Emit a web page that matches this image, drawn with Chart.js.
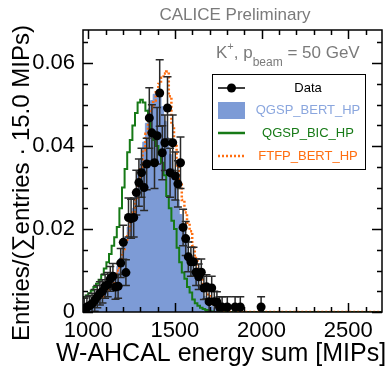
<!DOCTYPE html>
<html>
<head>
<meta charset="utf-8">
<title>W-AHCAL energy sum</title>
<script src="https://cdn.jsdelivr.net/npm/chart.js@4.4.1/dist/chart.umd.min.js"></script>
<style>
  html, body { margin: 0; padding: 0; background: #fff; }
  canvas { display: block; }
</style>
</head>
<body>
<canvas id="energyChart" width="389" height="368"></canvas>
<script>
// Binning of the histograms (MIPs)
const binStart = 970;
const binWidth = 15;
const axisMax = 2695;

// Data, normalised entries per bin (null = no point drawn)
const dataValues = [
  0.0008, 0.0012, 0.0015, 0.0020, 0.0028, 0.0037, 0.0045, 0.0050, 0.0062, 0.0066,
  0.0080, 0.0086, 0.0060, 0.0062, 0.0118, 0.0168, 0.0095, 0.0228, 0.0225, 0.0228,
  0.0288, 0.0312, 0.0336, 0.0300, 0.0357, 0.0468, 0.0432, 0.0360, 0.0425, 0.0528,
  0.0384, 0.0408, 0.0492, 0.0336, 0.0408, 0.0328, 0.0309, 0.0360, 0.0204, 0.0177,
  0.0133, 0.0121, 0.0121, 0.0096, 0.0085, 0.0096, 0.0058, 0.0061, 0.0025, 0.0058,
  0.0025, 0.0024, 0.0012, 0.0012, null, 0.0012, null, null, 0.0012, null,
  0.0012, null, null, null, null, null, null, null, 0.0012, null
];
const dataErrors = [
  0.0025, 0.0025, 0.0025, 0.0025, 0.0026, 0.0027, 0.0028, 0.0028, 0.0029, 0.0029,
  0.0030, 0.0031, 0.0029, 0.0029, 0.0035, 0.0041, 0.0031, 0.0047, 0.0047, 0.0047,
  0.0054, 0.0057, 0.0059, 0.0055, 0.0062, 0.0073, 0.0068, 0.0062, 0.0068, 0.0080,
  0.0065, 0.0067, 0.0075, 0.0059, 0.0067, 0.0058, 0.0056, 0.0062, 0.0044, 0.0041,
  0.0036, 0.0035, 0.0035, 0.0032, 0.0031, 0.0032, 0.0028, 0.0029, 0.0025, 0.0028,
  0.0025, 0.0025, 0.0025, 0.0025, null, 0.0025, null, null, 0.0025, null,
  0.0025, null, null, null, null, null, null, null, 0.0025, null
];

// Simulations
const bertValues = [
  0.0010, 0.0012, 0.0016, 0.0020, 0.0025, 0.0030, 0.0037, 0.0045, 0.0052, 0.0060,
  0.0070, 0.0080, 0.0095, 0.0110, 0.0130, 0.0160, 0.0180, 0.0205, 0.0225, 0.0250,
  0.0280, 0.0330, 0.0370, 0.0410, 0.0455, 0.0490, 0.0510, 0.0525, 0.0530, 0.0520,
  0.0495, 0.0460, 0.0420, 0.0380, 0.0345, 0.0310, 0.0270, 0.0235, 0.0200, 0.0170,
  0.0135, 0.0110, 0.0092, 0.0078, 0.0065, 0.0050, 0.0038, 0.0028, 0.0020, 0.0013,
  0.0008, 0.0005, 0.0003, 0.0002, 0.0001, 0, 0, 0, 0, 0
];
const bicValues = [
  0.0035, 0.0040, 0.0045, 0.0052, 0.0060, 0.0068, 0.0078, 0.0090, 0.0105, 0.0120,
  0.0140, 0.0160, 0.0180, 0.0205, 0.0250, 0.0300, 0.0345, 0.0385, 0.0415, 0.0450,
  0.0480, 0.0505, 0.0512, 0.0505, 0.0485, 0.0460, 0.0435, 0.0415, 0.0400, 0.0380,
  0.0360, 0.0330, 0.0280, 0.0250, 0.0220, 0.0200, 0.0155, 0.0120, 0.0095, 0.0080,
  0.0060, 0.0047, 0.0030, 0.0021, 0.0015, 0.0010, 0.0007, 0.0005, 0.0003, 0.0001,
  0, 0, 0, 0, 0, 0, 0, 0, 0, 0
];
const ftfpValues = [
  0.0008, 0.0010, 0.0013, 0.0017, 0.0020, 0.0025, 0.0030, 0.0037, 0.0045, 0.0052,
  0.0060, 0.0070, 0.0085, 0.0100, 0.0120, 0.0145, 0.0170, 0.0190, 0.0215, 0.0240,
  0.0270, 0.0310, 0.0350, 0.0390, 0.0430, 0.0460, 0.0490, 0.0510, 0.0530, 0.0550,
  0.0565, 0.0575, 0.0580, 0.0520, 0.0450, 0.0400, 0.0350, 0.0310, 0.0270, 0.0240,
  0.0215, 0.0195, 0.0160, 0.0130, 0.0105, 0.0085, 0.0065, 0.0050, 0.0038, 0.0028,
  0.0020, 0.0013, 0.0008, 0.0005, 0.0003, 0.0002, 0, 0, 0, 0
];

// Axes
const xRange = [970, 2695];
const yRange = [0, 0.068];
const xTickValues = [1000, 1500, 2000, 2500];
const yTickValues = [0, 0.02, 0.04, 0.06];
const xMinorStep = 100;
const yMinorStep = 0.005;

const legendLabels = ['Data', 'QGSP_BERT_HP', 'QGSP_BIC_HP', 'FTFP_BERT_HP'];

const FONT = "'Liberation Sans', Arial, sans-serif";
const BLUE = '#7d9bd6';
const BLUE_TEXT = '#8aa6de';
const GREEN = '#177a17';
const ORANGE = '#ff6e10';
const GREY = '#7a7a7a';

// Step histogram: points at the left bin edges, then closed down to zero
function histogramPoints(values) {
  const points = values.map((v, i) => ({ x: binStart + i * binWidth, y: v }));
  points.push({ x: binStart + values.length * binWidth, y: 0 });
  points.push({ x: axisMax, y: 0 });
  return points;
}

// Data points at bin centres, with errors
function dataPoints() {
  const points = [];
  dataValues.forEach((v, i) => {
    if (v !== null) {
      points.push({ x: binStart + (i + 0.5) * binWidth, y: v, err: dataErrors[i] });
    }
  });
  return points;
}

// Error bars, drawn just before the data markers
const errorBarPlugin = {
  id: 'errorBars',
  beforeDatasetDraw(chart, args) {
    if (args.index !== 0) return;
    const { ctx, chartArea, scales } = chart;
    const points = chart.data.datasets[0].data;
    ctx.save();
    ctx.beginPath();
    ctx.rect(chartArea.left, chartArea.top, chartArea.right - chartArea.left, chartArea.bottom - chartArea.top);
    ctx.clip();
    ctx.strokeStyle = '#2a2a2a';
    ctx.lineWidth = 1.5;
    points.forEach(p => {
      const px = scales.x.getPixelForValue(p.x);
      const top = scales.y.getPixelForValue(p.y + p.err);
      const bottom = scales.y.getPixelForValue(p.y - p.err);
      ctx.beginPath();
      ctx.moveTo(px, top);
      ctx.lineTo(px, bottom);
      ctx.moveTo(px - 4, top);
      ctx.lineTo(px + 4, top);
      ctx.moveTo(px - 4, bottom);
      ctx.lineTo(px + 4, bottom);
      ctx.stroke();
    });
    ctx.restore();
  }
};

// Frame with inward ticks on all four sides
function drawFrame(chart) {
  const { ctx, chartArea: a, scales } = chart;
  ctx.save();
  ctx.strokeStyle = '#000';
  ctx.lineWidth = 1.5;
  ctx.strokeRect(a.left, a.top, a.right - a.left, a.bottom - a.top);
  ctx.beginPath();
  for (let v = 1000; v <= xRange[1]; v += xMinorStep) {
    const px = Math.round(scales.x.getPixelForValue(v)) + 0.5;
    const len = xTickValues.includes(v) ? 9 : 5;
    ctx.moveTo(px, a.bottom);
    ctx.lineTo(px, a.bottom - len);
    ctx.moveTo(px, a.top);
    ctx.lineTo(px, a.top + len);
  }
  for (let i = 0; i * yMinorStep <= yRange[1]; i++) {
    const v = +(i * yMinorStep).toFixed(3);
    const py = Math.round(scales.y.getPixelForValue(v)) + 0.5;
    const len = yTickValues.includes(v) ? 10 : 5;
    ctx.moveTo(a.left, py);
    ctx.lineTo(a.left + len, py);
    ctx.moveTo(a.right, py);
    ctx.lineTo(a.right - len, py);
  }
  ctx.stroke();
  ctx.restore();
}

// Texts outside the chart area
function drawTexts(chart) {
  const { ctx } = chart;
  ctx.save();
  ctx.fillStyle = GREY;
  ctx.textBaseline = 'alphabetic';
  ctx.textAlign = 'center';
  ctx.font = '17px ' + FONT;
  ctx.fillText('CALICE Preliminary', 235, 20);

  // K+, p_beam = 50 GeV
  ctx.textAlign = 'left';
  let x = 216;
  ctx.font = '17px ' + FONT;
  ctx.fillText('K', x, 58);
  x += ctx.measureText('K').width;
  ctx.font = '11px ' + FONT;
  ctx.fillText('+', x, 50);
  x += ctx.measureText('+').width;
  ctx.font = '17px ' + FONT;
  ctx.fillText(', p', x, 58);
  x += ctx.measureText(', p').width;
  ctx.font = '12px ' + FONT;
  ctx.fillText('beam', x, 66);
  x += ctx.measureText('beam').width;
  ctx.font = '17px ' + FONT;
  ctx.fillText(' = 50 GeV', x, 58);

  // axis titles
  ctx.fillStyle = '#000';
  ctx.font = '25px ' + FONT;
  ctx.textAlign = 'center';
  ctx.fillText('W-AHCAL energy sum [MIPs]', 221, 361);
  ctx.font = '24px ' + FONT;
  ctx.translate(28.5, 183);
  ctx.rotate(-Math.PI / 2);
  ctx.fillText('Entries/(\u2211entries \u00b7 15.0 MIPs)', 0, 0);
  ctx.restore();
}

// Legend box inside the plot
function drawLegend(chart) {
  const { ctx } = chart;
  ctx.save();
  ctx.fillStyle = '#fff';
  ctx.fillRect(212, 74, 153, 95);
  ctx.strokeStyle = '#000';
  ctx.lineWidth = 1;
  ctx.strokeRect(212.5, 74.5, 153, 95);

  const rows = [88, 110, 133, 156];
  const colors = ['#000', BLUE_TEXT, GREEN, ORANGE];
  // Data: line with marker
  ctx.strokeStyle = '#000';
  ctx.lineWidth = 1.5;
  ctx.beginPath();
  ctx.moveTo(218, rows[0]);
  ctx.lineTo(245, rows[0]);
  ctx.stroke();
  ctx.fillStyle = '#000';
  ctx.beginPath();
  ctx.arc(231.5, rows[0], 4.5, 0, Math.PI * 2);
  ctx.fill();
  // QGSP_BERT_HP: filled box
  ctx.fillStyle = BLUE;
  ctx.fillRect(218, rows[1] - 8, 27, 17);
  // QGSP_BIC_HP: line
  ctx.strokeStyle = GREEN;
  ctx.lineWidth = 2.5;
  ctx.beginPath();
  ctx.moveTo(218, rows[2]);
  ctx.lineTo(245, rows[2]);
  ctx.stroke();
  // FTFP_BERT_HP: dotted line
  ctx.strokeStyle = ORANGE;
  ctx.setLineDash([2, 2]);
  ctx.beginPath();
  ctx.moveTo(218, rows[3]);
  ctx.lineTo(245, rows[3]);
  ctx.stroke();
  ctx.setLineDash([]);

  ctx.font = '13px ' + FONT;
  ctx.textAlign = 'center';
  ctx.textBaseline = 'middle';
  legendLabels.forEach((label, i) => {
    ctx.fillStyle = colors[i];
    ctx.fillText(label, 308, rows[i]);
  });
  ctx.restore();
}

const decorPlugin = {
  id: 'decor',
  afterDraw(chart) {
    drawFrame(chart);
    drawLegend(chart);
    drawTexts(chart);
  }
};

function createChart() {
  const ctx = document.getElementById('energyChart').getContext('2d');
  Chart.defaults.font.family = FONT;
  new Chart(ctx, {
    type: 'scatter',
    data: {
      datasets: [
        {
          label: legendLabels[0],
          data: dataPoints(),
          showLine: false,
          pointRadius: 4.5,
          pointHoverRadius: 4.5,
          pointBackgroundColor: '#000',
          pointBorderWidth: 0
        },
        {
          label: legendLabels[3],
          data: histogramPoints(ftfpValues),
          showLine: true,
          stepped: true,
          borderColor: ORANGE,
          borderWidth: 2.5,
          borderDash: [2, 2],
          pointRadius: 0,
          fill: false
        },
        {
          label: legendLabels[2],
          data: histogramPoints(bicValues),
          showLine: true,
          stepped: true,
          borderColor: GREEN,
          borderWidth: 2,
          pointRadius: 0,
          fill: false
        },
        {
          label: legendLabels[1],
          data: histogramPoints(bertValues),
          showLine: true,
          stepped: true,
          borderColor: BLUE,
          backgroundColor: BLUE,
          borderWidth: 1,
          pointRadius: 0,
          fill: 'origin'
        }
      ]
    },
    options: {
      responsive: false,
      animation: false,
      devicePixelRatio: 1,
      layout: { padding: { top: 30, right: 7, left: 0, bottom: 0 } },
      plugins: {
        legend: { display: false },
        tooltip: { enabled: false },
        title: { display: false }
      },
      scales: {
        x: {
          type: 'linear',
          min: xRange[0],
          max: xRange[1],
          grid: { display: false, drawTicks: false },
          border: { display: false },
          afterFit: scale => { scale.height = 56; },
          afterBuildTicks: scale => { scale.ticks = xTickValues.map(v => ({ value: v })); },
          ticks: {
            color: '#000',
            font: { size: 22 },
            padding: 6,
            maxRotation: 0,
            autoSkip: false,
            callback: v => String(v)
          }
        },
        y: {
          min: yRange[0],
          max: yRange[1],
          grid: { display: false, drawTicks: false },
          border: { display: false },
          afterFit: scale => { scale.width = 83; },
          afterBuildTicks: scale => { scale.ticks = yTickValues.map(v => ({ value: v })); },
          ticks: {
            color: '#000',
            font: { size: 22 },
            padding: 8,
            autoSkip: false,
            callback: v => (v === 0 ? '0' : v.toFixed(2))
          }
        }
      }
    },
    plugins: [errorBarPlugin, decorPlugin]
  });
}

document.addEventListener('DOMContentLoaded', createChart);
</script>
</body>
</html>
